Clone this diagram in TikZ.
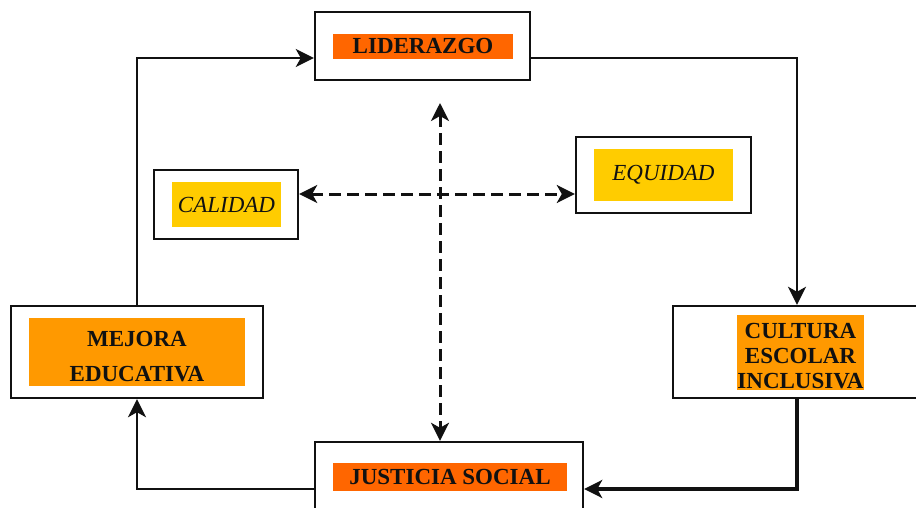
\documentclass[tikz,border=0pt]{standalone}
\usepackage{fontspec}
\setmainfont{Liberation Serif}
\usepackage{xcolor}
\usetikzlibrary{arrows.meta,positioning}
\definecolor{liderOrange}{HTML}{FF6600}
\definecolor{mejoraOrange}{HTML}{FF9900}
\definecolor{valueYellow}{HTML}{FFCC00}
\definecolor{ink}{HTML}{111111}

\begin{document}
\begin{tikzpicture}[x=0.5pt,y=-0.5pt,>={Stealth[length=9pt,width=9pt,inset=2.5pt]},
  frame/.style={draw=ink,line width=1.2pt,fill=white,inner sep=0pt},
  label box/.style={inner sep=0pt,font=\fontsize{11.5}{12.5}\selectfont\bfseries,text=ink,align=center},
  value box/.style={inner sep=0pt,font=\fontsize{11.5}{12.5}\selectfont\itshape,text=ink},
  flow/.style={->,line width=1.4pt,ink},
  link/.style={<->,line width=1.5pt,ink,dash pattern=on 6pt off 3pt}]
\useasboundingbox (0,0) rectangle (916,508);
% outer frames
\node[frame,minimum width=107.5pt,minimum height=34pt] (lid) at (422.5,46) {};
\node[frame,minimum width=72pt,minimum height=34.5pt] (cal) at (226,204.5) {};
\node[frame,minimum width=87.5pt,minimum height=38pt] (equ) at (663.5,175) {};
\node[frame,minimum width=126pt,minimum height=46pt] (mej) at (137,352) {};
\node[frame,minimum width=124pt,minimum height=46pt] (cul) at (797,352) {};
\node[frame,minimum width=134pt,minimum height=40pt] (jus) at (449,482) {};
% coloured labels
\node[label box,fill=liderOrange,minimum width=90pt,minimum height=12.5pt] (lidtxt) at (423,46.5) {LIDERAZGO};
\node[value box,fill=valueYellow,minimum width=54.5pt,minimum height=22.5pt] (caltxt) at (226.5,204.5) {CALIDAD};
\node[value box,fill=valueYellow,minimum width=69.5pt,minimum height=26pt] (equtxt) at (663.5,175) {EQUIDAD};
\node[label box,fill=mejoraOrange,minimum width=108pt,minimum height=34pt,font=\fontsize{11.5}{17.5}\selectfont\bfseries] (mejtxt) at (137,352) {\rule{0pt}{12.6pt}MEJORA\\EDUCATIVA};
\node[label box,fill=mejoraOrange,minimum width=63.5pt,minimum height=37.5pt] (cultxt) at (800.5,352.5) {\rule{0pt}{11.6pt}CULTURA\\ESCOLAR\\INCLUSIVA};
\node[label box,fill=liderOrange,minimum width=117pt,minimum height=14pt] (justxt) at (450,477) {JUSTICIA SOCIAL};
% cycle
\coordinate (c1) at (137,58);
\coordinate (c2) at (797,58);
\coordinate (c3) at (797,489);
\coordinate (c4) at (137,489);
\coordinate (top) at (440,103);
\coordinate (mid) at (300,194);
\draw[flow] (mej.north) -- (c1) -- (lid.west |- c1);
\draw[flow] (lid.east |- c2) -- (c2) -- (cul.north);
\draw[flow,line width=1.7pt] (cul.south) -- (c3) -- (jus.east |- c3);
\draw[flow] (jus.west |- c4) -- (c4) -- (mej.south);
% dashed links
\draw[link] (top) -- (top |- jus.north);
\draw[link] (cal.east |- mid) -- (equ.west |- mid);
\end{tikzpicture}
\end{document}
